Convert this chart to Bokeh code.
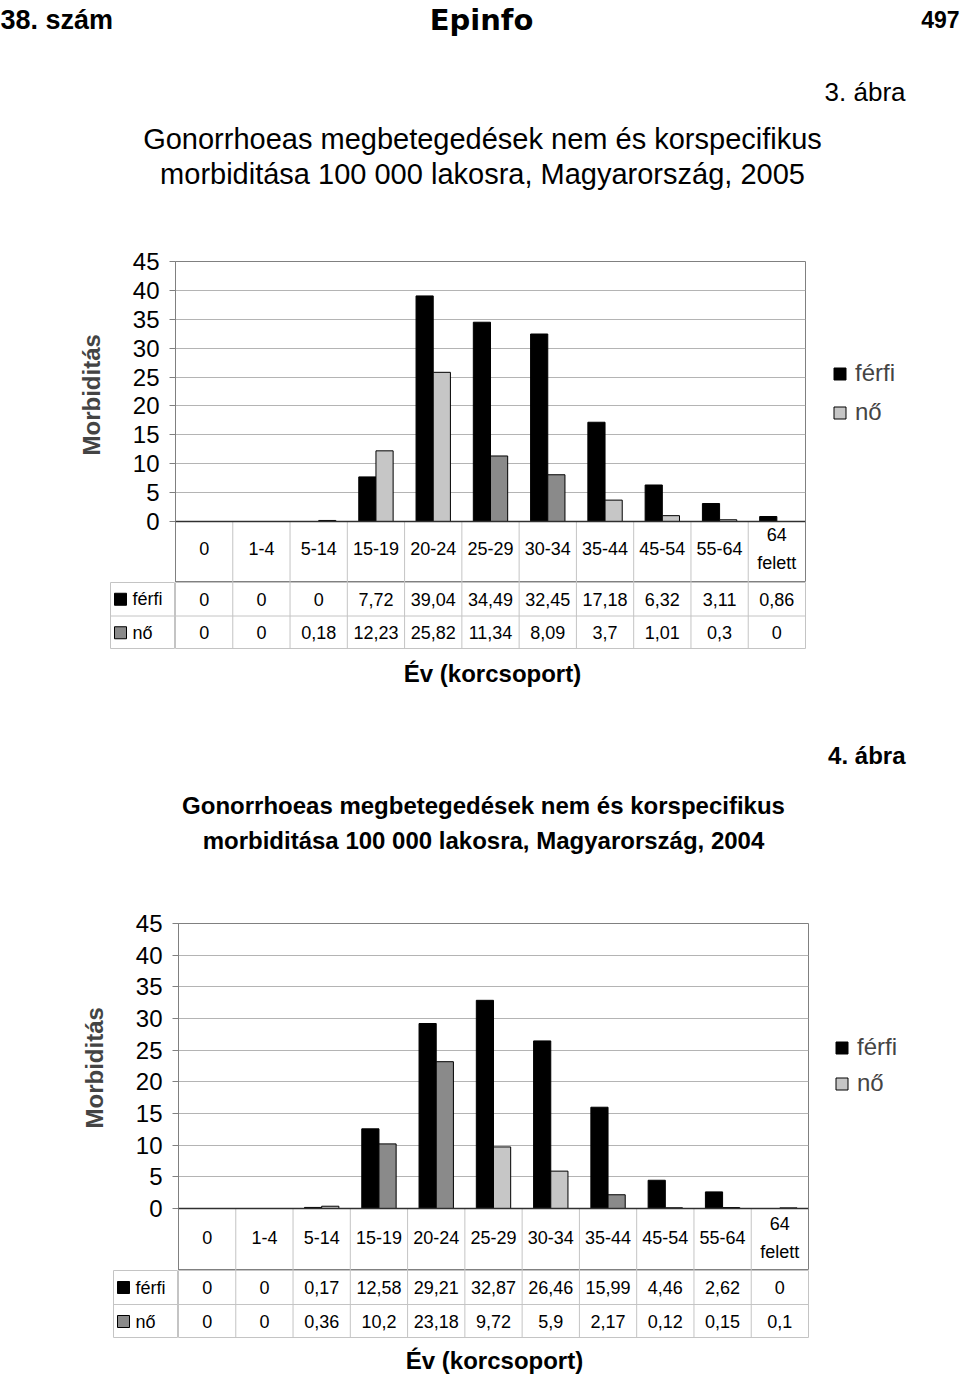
from bokeh.plotting import figure
from bokeh.layouts import column, row
from bokeh.models import (ColumnDataSource, CDSView, BooleanFilter, FactorRange, FixedTicker,
                          Label, Legend, LegendItem, Range1d, Span, Spacer, Title)
from bokeh.transform import dodge
from bokeh.core.properties import value
from bokeh.embed import file_html
from bokeh.resources import INLINE

# ---------------- data ----------------
header_left = "38. szám"
header_logo = "Epinfo"
header_page = "497"

age_groups = ["0", "1-4", "5-14", "15-19", "20-24", "25-29", "30-34",
              "35-44", "45-54", "55-64", "64 felett"]
series_names = ["férfi", "nő"]
y_ticks = [0, 5, 10, 15, 20, 25, 30, 35, 40, 45]

ferfi_2005 = [0, 0, 0, 7.72, 39.04, 34.49, 32.45, 17.18, 6.32, 3.11, 0.86]
no_2005 = [0, 0, 0.18, 12.23, 25.82, 11.34, 8.09, 3.7, 1.01, 0.3, 0]
ferfi_2004 = [0, 0, 0.17, 12.58, 29.21, 32.87, 26.46, 15.99, 4.46, 2.62, 0]
no_2004 = [0, 0, 0.36, 10.2, 23.18, 9.72, 5.9, 2.17, 0.12, 0.15, 0.1]

figure_no_2005 = "3. ábra"
figure_no_2004 = "4. ábra"
title_2005 = ["Gonorrhoeas megbetegedések nem és korspecifikus",
              "morbiditása 100 000 lakosra, Magyarország, 2005"]
title_2004 = ["Gonorrhoeas megbetegedések nem és korspecifikus",
              "morbiditása 100 000 lakosra, Magyarország, 2004"]
y_title = "Morbiditás"
x_title = "Év (korcsoport)"

# ---------------- styles ----------------
FONT = "Liberation Sans"
BLACK = "#000000"
LIGHT = "#c6c6c6"
DARK = "#8a8a8a"
PLOT_BORDER = "#808080"
GRID = "#b4b4b4"
TABLE_LINE = "#c4c4c4"
no_shade_2005 = [LIGHT, LIGHT, LIGHT, LIGHT, LIGHT, DARK, DARK, LIGHT, LIGHT, LIGHT, LIGHT]
no_shade_2004 = [LIGHT, LIGHT, LIGHT, DARK, DARK, LIGHT, LIGHT, DARK, LIGHT, LIGHT, LIGHT]

PAGE_W = 960
FRAME_W = 630
TOP_PAD = 16


def fmt(v):
    return f"{v:g}".replace(".", ",")


def text_fig(w, h):
    p = figure(width=w, height=h, x_range=Range1d(0, w), y_range=Range1d(h, 0),
               x_axis_location=None, y_axis_location=None, toolbar_location=None,
               output_backend="svg", min_border=0, outline_line_color=None,
               border_fill_color="white", background_fill_color="white")
    p.grid.visible = False
    return p


def add_label(p, x, y, text, size, style="normal", align="left", font=FONT):
    p.add_layout(Label(x=x, y=y, text=text, text_font=font, text_font_size=size,
                       text_font_style=style, text_align=align, text_baseline="middle",
                       text_color="#000000"))


def make_chart(ferfi, no, shades, frame_left, plot_px, cat_px, cat_label_px, ytitle_offset,
               ytitle_standoff, leg_dx, leg_top, leg_spacing, leg_index):
    ppu = plot_px / 45.0
    y_lo = -cat_px / ppu
    height = TOP_PAD + plot_px + cat_px
    x_range = FactorRange(factors=age_groups)
    p = figure(width=frame_left + FRAME_W + 3, height=height,
               x_range=x_range, y_range=Range1d(y_lo, 45),
               x_axis_location=None, toolbar_location=None, output_backend="svg",
               min_border_left=frame_left, min_border_right=3,
               min_border_top=TOP_PAD, min_border_bottom=0, outline_line_color=PLOT_BORDER,
               background_fill_color="white", border_fill_color="white")
    p.xgrid.visible = False
    p.ygrid.ticker = FixedTicker(ticks=y_ticks)
    p.ygrid.grid_line_color = GRID
    ax = p.yaxis[0]
    ax.ticker = FixedTicker(ticks=y_ticks)
    ax.axis_line_color = PLOT_BORDER
    ax.major_tick_line_color = PLOT_BORDER
    ax.major_tick_out = 6
    ax.major_tick_in = 0
    ax.minor_tick_line_color = None
    ax.major_label_standoff = 10
    ax.major_label_text_font = FONT
    ax.major_label_text_font_size = "24px"
    ax.major_label_text_color = "#000000"

    p.add_layout(Title(text=y_title, align="left", offset=ytitle_offset, standoff=ytitle_standoff,
                       text_font=FONT, text_font_size="24px", text_font_style="bold"), "left")

    src = ColumnDataSource(dict(cat=age_groups, ferfi=ferfi, no=no, shade=shades))
    view_f = CDSView(filter=BooleanFilter(booleans=[v > 0 for v in ferfi]))
    view_n = CDSView(filter=BooleanFilter(booleans=[v > 0 for v in no]))
    p.vbar(x=dodge("cat", -0.15, range=x_range), top="ferfi", width=0.3, source=src,
           view=view_f, fill_color=BLACK, line_color=BLACK)
    p.vbar(x=dodge("cat", 0.15, range=x_range), top="no", width=0.3, source=src,
           view=view_n, fill_color="shade", line_color=BLACK)

    p.add_layout(Span(location=0, dimension="width", line_color="#303030", line_width=1.5))

    sep = ColumnDataSource(dict(cat=age_groups[1:]))
    p.segment(x0=dodge("cat", -0.5, range=x_range), x1=dodge("cat", -0.5, range=x_range),
              y0=0, y1=y_lo, source=sep, line_color=TABLE_LINE, line_width=1)

    lab = ColumnDataSource(dict(cat=age_groups, txt=[c.replace(" ", "\n") for c in age_groups]))
    p.text(x="cat", y=-cat_label_px / ppu, text="txt", source=lab, text_font=value(FONT),
           text_font_size="18px", text_align="center", text_baseline="middle",
           text_line_height=1.4, text_color="#000000")

    # legend (separate small figure, hidden renderers sharing the chart's data)
    pl = figure(width=110, height=80, x_range=x_range, y_range=Range1d(0, 1),
                x_axis_location=None, y_axis_location=None, toolbar_location=None,
                output_backend="svg", min_border=0, outline_line_color=None,
                border_fill_color="white", background_fill_color="white")
    pl.grid.visible = False
    lf = pl.vbar(x=dodge("cat", -0.15, range=x_range), top="ferfi", width=0.3, source=src,
                 fill_color=BLACK, line_color=BLACK, visible=False)
    ln = pl.vbar(x=dodge("cat", 0.15, range=x_range), top="no", width=0.3, source=src,
                 fill_color="shade", line_color=BLACK, visible=False)
    leg = Legend(items=[LegendItem(label=series_names[0], renderers=[lf], index=leg_index),
                        LegendItem(label=series_names[1], renderers=[ln], index=leg_index)],
                 location="top_left", margin=0, padding=0, spacing=leg_spacing,
                 glyph_width=15, glyph_height=15, label_standoff=8, label_height=15,
                 label_text_font=FONT, label_text_font_size="24px",
                 border_line_color=None, background_fill_alpha=0)
    pl.add_layout(leg)
    return row(p, Spacer(width=leg_dx), column(Spacer(height=leg_top), pl)), x_range


def make_table(ferfi, no, x_range, frame_left, lab_left, h):
    pl = figure(width=frame_left, height=h, x_range=Range1d(0, frame_left - lab_left),
                y_range=Range1d(0, 2), x_axis_location=None, y_axis_location=None,
                toolbar_location=None, output_backend="svg", min_border_left=lab_left,
                min_border_right=0, min_border_top=0, min_border_bottom=0,
                outline_line_color=TABLE_LINE, border_fill_color="white",
                background_fill_color="white")
    pl.grid.visible = False
    pl.add_layout(Span(location=1, dimension="width", line_color=TABLE_LINE))
    s = ColumnDataSource(dict(name=series_names, y=[1.5, 0.5], fill=[BLACK, DARK]))
    pl.scatter(x=10, y="y", marker="square", size=12, fill_color="fill", line_color=BLACK, source=s)
    pl.text(x=22, y="y", text="name", source=s, text_font=value(FONT), text_font_size="18px",
            text_baseline="middle", text_color="#000000")

    pv = figure(width=FRAME_W + 3, height=h, x_range=x_range, y_range=Range1d(0, 2),
                x_axis_location=None, y_axis_location=None, toolbar_location=None,
                output_backend="svg", min_border_left=0, min_border_right=3,
                min_border_top=0, min_border_bottom=0, outline_line_color=TABLE_LINE,
                border_fill_color="white", background_fill_color="white")
    pv.grid.visible = False
    pv.add_layout(Span(location=1, dimension="width", line_color=TABLE_LINE))
    sep = ColumnDataSource(dict(cat=age_groups[1:]))
    pv.segment(x0=dodge("cat", -0.5, range=x_range), x1=dodge("cat", -0.5, range=x_range),
               y0=0, y1=2, source=sep, line_color=TABLE_LINE)
    vs = ColumnDataSource(dict(cat=age_groups, f=[fmt(v) for v in ferfi], n=[fmt(v) for v in no]))
    pv.text(x="cat", y=1.5, text="f", source=vs, text_font=value(FONT), text_font_size="18px",
            text_align="center", text_baseline="middle", text_color="#000000")
    pv.text(x="cat", y=0.5, text="n", source=vs, text_font=value(FONT), text_font_size="18px",
            text_align="center", text_baseline="middle", text_color="#000000")
    return row(pl, pv)


# ---------------- header ----------------
head = text_fig(PAGE_W, 245)
add_label(head, 0, 19, header_left, "27px", "bold")
add_label(head, 481, 19, header_logo, "29px", "bold", "center", font="DejaVu Sans")
add_label(head, 959, 19, header_page, "23px", "bold", "right")
add_label(head, 905, 91, figure_no_2005, "26px", "normal", "right")
add_label(head, 482, 138, title_2005[0], "29px", "normal", "center")
add_label(head, 482, 173, title_2005[1], "29px", "normal", "center")

# ---------------- chart 2005 ----------------
chart05, xr05 = make_chart(ferfi_2005, no_2005, no_shade_2005, frame_left=175, plot_px=260,
                           cat_px=61, cat_label_px=27, ytitle_offset=127, ytitle_standoff=50,
                           leg_dx=24, leg_top=114, leg_spacing=11, leg_index=3)
table05 = make_table(ferfi_2005, no_2005, xr05, 175, 110, 67)

mid = text_fig(PAGE_W, 258)
add_label(mid, 492, 24, x_title, "24px", "bold", "center")
add_label(mid, 905, 106, figure_no_2004, "24px", "bold", "right")
add_label(mid, 483, 156, title_2004[0], "24px", "bold", "center")
add_label(mid, 483, 191, title_2004[1], "24px", "bold", "center")

# ---------------- chart 2004 ----------------
chart04, xr04 = make_chart(ferfi_2004, no_2004, no_shade_2004, frame_left=178, plot_px=285,
                           cat_px=62, cat_label_px=29, ytitle_offset=142, ytitle_standoff=49,
                           leg_dx=23, leg_top=126, leg_spacing=8, leg_index=5)
table04 = make_table(ferfi_2004, no_2004, xr04, 178, 113, 68)

bottom = text_fig(PAGE_W, 38)
add_label(bottom, 494, 22, x_title, "24px", "bold", "center")

layout = column(head, chart05, table05, mid, chart04, table04, bottom)

with open("out.html", "w", encoding="utf-8") as f:
    f.write(file_html(layout, INLINE))
